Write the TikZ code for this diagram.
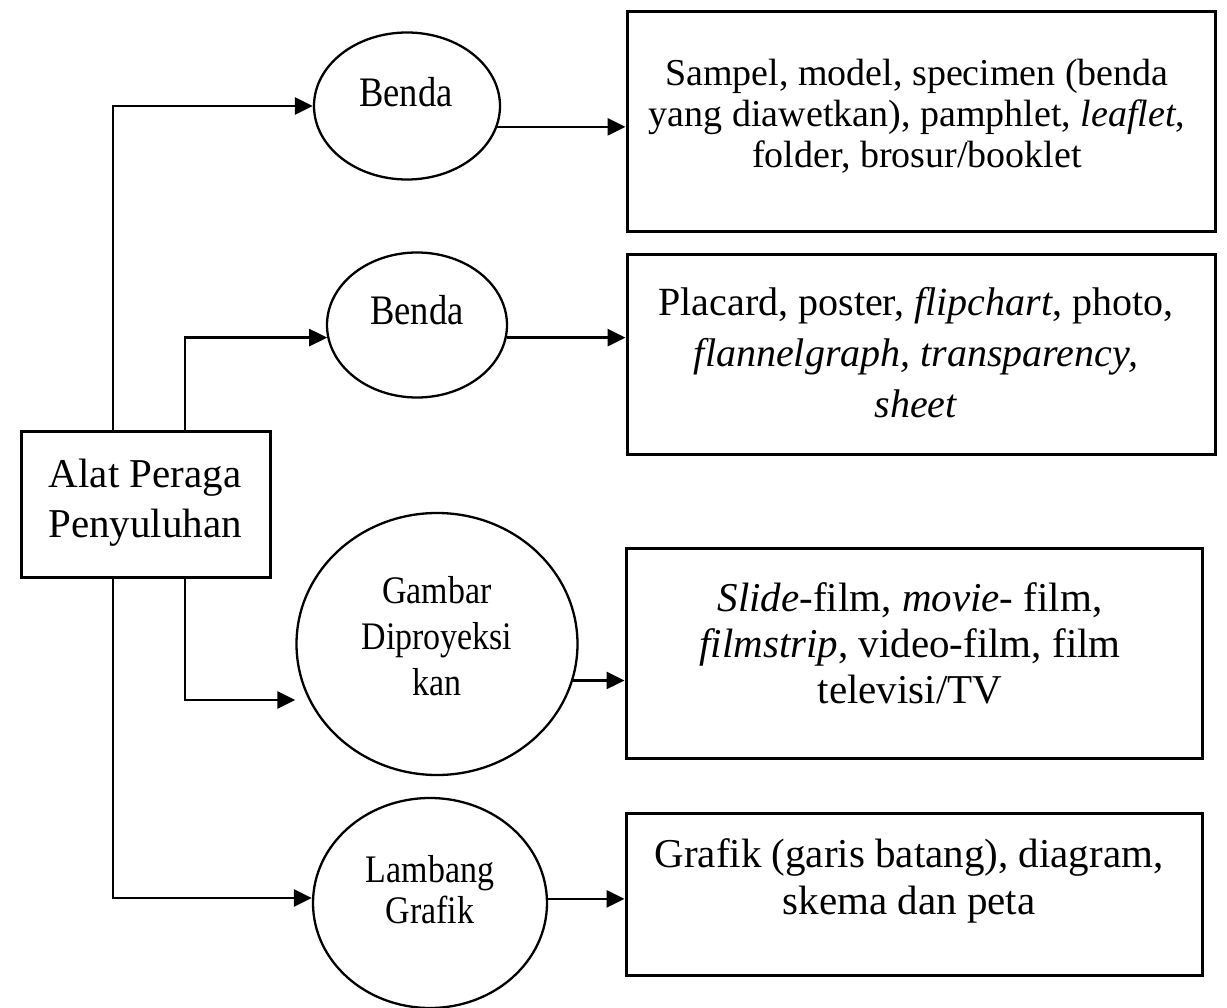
\documentclass[tikz,border=0pt]{standalone}
\usepackage{fontspec}
\setmainfont{Liberation Serif}
\newfontfamily\ellfont[FakeStretch=0.87]{Liberation Serif}
\usetikzlibrary{shapes.geometric,arrows.meta}
\begin{document}
\begin{tikzpicture}[x=1pt,y=-1pt,
  box/.style={draw, line width=3pt, rectangle, inner sep=0pt},
  oval/.style={draw, line width=2.3pt, ellipse, inner sep=0pt},
  txt/.style={align=center, inner sep=0pt},
  conn/.style={line width=2.7pt, -{Triangle[length=18pt,width=17pt]}},
]
\fill[white] (0,0) rectangle (1227,1008);
\useasboundingbox (0,0) rectangle (1227,1008);

% left box
\node[box, minimum width=249pt, minimum height=146pt] (L) at (145.5,504) {};
\node[txt, font=\fontsize{41pt}{50pt}\selectfont] (Lt) at (145,503) {Alat Peraga\\Penyuluhan};

% ellipses
\node[oval, minimum width=186pt, minimum height=147pt] (e1) at (407,106) {};
\node[txt, font=\ellfont\fontsize{42pt}{46pt}\selectfont] (e1t) at (406,92) {Benda};
\node[oval, minimum width=180pt, minimum height=145pt] (e2) at (417,325) {};
\node[txt, font=\ellfont\fontsize{42pt}{46pt}\selectfont] (e2t) at (417,310) {Benda};
\node[oval, minimum width=281pt, minimum height=262pt] (e3) at (437,644) {};
\node[txt, font=\ellfont\fontsize{39pt}{46pt}\selectfont] (e3t) at (437,636) {Gambar\\Diproyeksi\\kan};
\node[oval, minimum width=234pt, minimum height=210pt] (e4) at (430,903) {};
\node[txt, font=\ellfont\fontsize{39pt}{41pt}\selectfont] (e4t) at (430,890) {Lambang\\Grafik};

% right boxes
\node[box, minimum width=588pt, minimum height=220pt] (B1) at (921,122) {};
\node[txt, font=\fontsize{38pt}{41pt}\selectfont] (B1t) at (917,116)
  {Sampel, model, specimen (benda\\yang diawetkan), pamphlet, \textit{leaflet},\\folder, brosur/booklet};
\node[box, minimum width=588pt, minimum height=199pt] (B2) at (921,354.5) {};
\node[txt, font=\fontsize{40pt}{51pt}\selectfont] (B2t) at (916,353)
  {Placard, poster, \textit{flipchart}, photo,\\\textit{flannelgraph, transparency,}\\\textit{sheet}};
\node[box, minimum width=576pt, minimum height=210pt] (B3) at (914,653) {};
\node[txt, font=\fontsize{41pt}{46pt}\selectfont] (B3t) at (910,643)
  {\textit{Slide}-film, \textit{movie}- film,\\\textit{filmstrip}, video-film, film\\televisi/TV};
\node[box, minimum width=576pt, minimum height=162pt] (B4) at (914,894) {};
\node[txt, font=\fontsize{41pt}{47pt}\selectfont] (B4t) at (909,881)
  {Grafik (garis batang), diagram,\\skema dan peta};

% connectors from left box
\draw[conn] (113,0 |- L.north) |- (e1.west);
\draw[conn] (185,0 |- L.north) |- (e2.188);
\draw[conn] (185,0 |- L.south) |- (e3.west |- 0,700);
\draw[conn] (113,0 |- L.south) |- (e4.west |- 0,898);

% connectors to right boxes
\draw[conn] (e1.-13) -- (e1.-13 -| B1.west);
\draw[conn] (e2.-8) -- (e2.-8 -| B2.west);
\draw[conn] (e3.-15) -- (e3.-15 -| B3.west);
\draw[conn] (e4.2) -- (e4.2 -| B4.west);
\end{tikzpicture}
\end{document}
